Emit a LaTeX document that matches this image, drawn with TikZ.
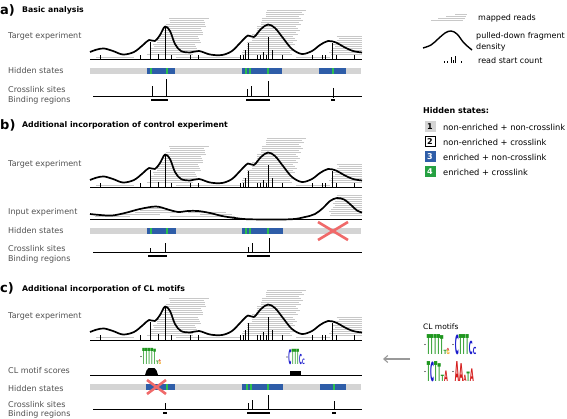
\documentclass[tikz,border=0pt]{standalone}
\usepackage{fontspec}
\setmainfont{DejaVu Sans}
\usetikzlibrary{arrows.meta}
\definecolor{readgrey}{HTML}{C8C8C8}
\definecolor{stategrey}{HTML}{D4D4D4}
\definecolor{stateblue}{HTML}{2E5DA8}
\definecolor{stategreen}{HTML}{2DBE4E}
\definecolor{xred}{HTML}{F06A6A}
\definecolor{labgrey}{HTML}{505050}
\definecolor{tgreen}{HTML}{1E961E}
\definecolor{cblue}{HTML}{1A1ACC}
\definecolor{ared}{HTML}{D41A1A}
\definecolor{gorange}{HTML}{F0A010}
\definecolor{arrgrey}{HTML}{999999}
\tikzset{
 read/.style={readgrey, line width=1pt},
 curve/.style={black, line width=1.7pt, line join=round},
 base/.style={black, line width=1pt},
 rsc/.style={black, line width=0.9pt},
 tracklabel/.style={anchor=base west, inner sep=0, font=\fontsize{8}{9}\selectfont, text=labgrey},
 title/.style={anchor=base west, inner sep=0, font=\bfseries\fontsize{7.8}{9}\selectfont},
 panel/.style={anchor=base west, inner sep=0, font=\bfseries\fontsize{13}{13}\selectfont},
 legtext/.style={anchor=base west, inner sep=0, font=\fontsize{8}{9}\selectfont},
 itemtext/.style={anchor=west, inner sep=0, font=\fontsize{8.3}{10}\selectfont},
 bind/.style={black, line width=2.2pt},
 xmark/.style={xred, line width=2.6pt},
 statebox/.style={minimum width=11pt, minimum height=11pt, inner sep=0, font=\bfseries\fontsize{8}{8}\selectfont},
}
\newcommand\TargetTrack{%
 \foreach \i in {0,...,18}{%
  \pgfmathsetmacro\rl{171-1.3*\i+mod(\i*7,5)-2}%
  \pgfmathsetmacro\rr{209-0.7*\i-mod(\i*3,4)*1.5}%
  \draw[read] (\rl,19+2*\i) -- (\rr,19+2*\i);}%
 \foreach \i in {0,...,22}{%
  \pgfmathsetmacro\rl{268-1.2*\i+mod(\i*5,4)-1.5}%
  \pgfmathsetmacro\rr{306-0.6*\i-mod(\i*3,5)*1.2}%
  \draw[read] (\rl,11+2*\i) -- (\rr,11+2*\i);}%
 \foreach \i in {0,...,9}{%
  \pgfmathsetmacro\rl{338-0.9*\i+mod(\i*3,4)-1.5}%
  \draw[read] (\rl,37+2*\i) -- (362,37+2*\i);}%
 \foreach \a/\b in {96/134,176/232,214/240,296/330}{\draw[read] (\a,57.5) -- (\b,57.5);}%
 \draw[curve] plot[smooth,tension=0.55] coordinates {(90,52) (97,49.5) (104,48.5) (113,51) (123,54.5) (134,52) (143,45) (149,40) (155,41) (160,35) (165,26.5) (170,31) (175,44) (181,51) (190,52.5) (199,51) (210,54.5) (222,55) (232,51) (241,42) (248,35.5) (254,37) (261,29) (268,24.5) (275,28) (283,38) (292,49) (302,54) (312,51) (320,45) (328,41) (336,42.5) (344,47) (353,51) (362,52.5)};%
 \foreach \x/\t in {100/55,140/55,150/42,158/54,165/27,171/55,190/55,198/55,240/55,243/55,245/50,248/43,257/55,260/55,263/52,266/55,268/37,272/50,282/55,312/55,322/55,325/55,332/43,336/55,354/55}{\draw[rsc] (\x,60) -- (\x,\t);}%
 \draw[base] (90,60) -- (362,60);%
}
\newcommand\StateBar[1]{%
 \fill[stategrey] (90,#1-3) rectangle (361,#1+3);%
}
\newcommand\BlueSeg[3]{\fill[stateblue] (#1,#3-3) rectangle (#2,#3+3);}
\newcommand\GreenStripe[2]{\fill[stategreen] (#1-0.8,#2-3) rectangle (#1+0.8,#2+3);}
\newcommand\Lt[6]{%
 \pgfmathsetmacro\ltw{#3}\pgfmathsetmacro\lth{#4}%
 \node[inner sep=0,anchor=south west] at (#1,#2) {\resizebox*{\ltw pt}{\lth pt}{\color{#5}\bfseries #6}};}
\newcommand\LogoA[3]{%
 \fill (#1,#2-10*#3) circle (0.6);
 \Lt{#1+1.5*#3}{#2}{3.1*#3}{19*#3}{tgreen}{T}
 \Lt{#1+4.7*#3}{#2}{3.1*#3}{19*#3}{tgreen}{T}
 \Lt{#1+7.9*#3}{#2}{3.1*#3}{19*#3}{tgreen}{T}
 \Lt{#1+11.1*#3}{#2}{3.1*#3}{19*#3}{tgreen}{T}
 \Lt{#1+14.3*#3}{#2}{3.1*#3}{18*#3}{tgreen}{T}
 \Lt{#1+17.5*#3}{#2}{3*#3}{4*#3}{tgreen}{T}
 \Lt{#1+20.5*#3}{#2}{3*#3}{4*#3}{gorange}{G}
 \Lt{#1+20.5*#3}{#2-4*#3}{2.5*#3}{2*#3}{ared}{A}
}
\newcommand\LogoB[3]{%
 \fill (#1,#2-10*#3) circle (0.6);
 \Lt{#1+1.5*#3}{#2}{3.8*#3}{19*#3}{cblue}{C}
 \Lt{#1+5.4*#3}{#2}{3.1*#3}{19*#3}{tgreen}{T}
 \Lt{#1+8.6*#3}{#2}{3.1*#3}{19*#3}{tgreen}{T}
 \Lt{#1+11.8*#3}{#2}{3.1*#3}{19*#3}{tgreen}{T}
 \Lt{#1+15*#3}{#2}{3.6*#3}{13*#3}{cblue}{C}
 \Lt{#1+18.7*#3}{#2}{3.4*#3}{7*#3}{cblue}{C}
}
\newcommand\LogoC[3]{%
 \fill (#1,#2-10*#3) circle (0.6);
 \Lt{#1+1.5*#3}{#2}{3.1*#3}{19*#3}{tgreen}{T}
 \Lt{#1+4.7*#3}{#2}{3.8*#3}{19*#3}{cblue}{C}
 \Lt{#1+8.6*#3}{#2}{3.1*#3}{19*#3}{tgreen}{T}
 \Lt{#1+11.8*#3}{#2}{3.1*#3}{17*#3}{tgreen}{T}
 \Lt{#1+15*#3}{#2}{3*#3}{6*#3}{tgreen}{T}
 \Lt{#1+18.1*#3}{#2}{3.6*#3}{10*#3}{ared}{A}
}
\newcommand\LogoD[3]{%
 \fill (#1,#2-10*#3) circle (0.6);
 \Lt{#1+1.5*#3}{#2}{4*#3}{19*#3}{ared}{A}
 \Lt{#1+5.6*#3}{#2}{4*#3}{17*#3}{ared}{A}
 \Lt{#1+9.7*#3}{#2}{3*#3}{6*#3}{ared}{A}
 \Lt{#1+12.8*#3}{#2}{3*#3}{9*#3}{tgreen}{T}
 \Lt{#1+15.9*#3}{#2}{3.8*#3}{12*#3}{ared}{A}
}
\begin{document}
\begin{tikzpicture}[x=1pt,y=-1pt]
\useasboundingbox (0,0) rectangle (567,419);

% ---------------- panel a
\node[panel] (pa) at (0,15) {a)};
\node[title] (ta) at (22,12.5) {Basic analysis};
\node[tracklabel] (la1) at (8,39) {Target experiment};
\node[tracklabel] (la2) at (8,74) {Hidden states};
\node[tracklabel] (la3) at (8,93) {Crosslink sites};
\node[tracklabel] (la4) at (8,102.5) {Binding regions};
\TargetTrack
\StateBar{71}
\BlueSeg{147}{175}{71}\BlueSeg{242}{282}{71}\BlueSeg{319}{346}{71}
\GreenStripe{151}{71}\GreenStripe{167}{71}\GreenStripe{246}{71}\GreenStripe{250}{71}\GreenStripe{268}{71}\GreenStripe{333}{71}
\draw[base, line width=0.8pt] (93,96) -- (362,96);
\foreach \x/\t in {152/86,166/79,247/89,251/86,268/81}{\draw[rsc] (\x,96) -- (\x,\t);}
\draw[rsc] (333,88) -- (333,98);
\draw[bind] (151,100) -- (168,100);
\draw[bind] (246,100) -- (270,100);
\draw[bind] (331,100) -- (335,100);

% ---------------- legend
\foreach \a/\b/\y in {455/467/15,446/466/17,438/465/19,431/463/21}{\draw[read] (\a,\y) -- (\b,\y);}
\node[legtext] (lg1) at (478,21) {mapped reads};
\draw[curve, line width=1.4pt] plot[smooth,tension=0.6] coordinates {(423,48) (431,45) (438,39) (445,33) (451,31) (457,34) (464,43) (472,50)};
\node[legtext] (lg2) at (476,39) {pulled-down fragment};
\node[legtext] (lg3) at (476,50) {density};
\foreach \x/\t in {444/61,447/61,451/57,453/60,455/56,461/61}{\draw[rsc] (\x,63) -- (\x,\t);}
\node[legtext] (lg4) at (478,64) {read start count};
\node[legtext, font=\bfseries\fontsize{8}{9}\selectfont] (hs) at (423,114) {Hidden states:};
\node[statebox, fill=stategrey] (s1) at (430,127) {1};
\node[statebox, draw=black, line width=1pt, fill=white, minimum width=10pt, minimum height=10pt] (s2) at (430,142) {2};
\node[statebox, fill=stateblue, text=white] (s3) at (430,157) {3};
\node[statebox, fill=stategreen!85!black, text=white] (s4) at (430,172) {4};
\node[itemtext] (t1) at (443,127) {non-enriched + non-crosslink};
\node[itemtext] (t2) at (443,142) {non-enriched + crosslink};
\node[itemtext] (t3) at (443,157) {enriched + non-crosslink};
\node[itemtext] (t4) at (443,172) {enriched + crosslink};

% ---------------- panel b
\node[panel] (pb) at (0,130) {b)};
\node[title] (tb) at (22,127.5) {Additional incorporation of control experiment};
\node[tracklabel] (lb1) at (8,167) {Target experiment};
\node[tracklabel] (lb2) at (8,214.5) {Input experiment};
\node[tracklabel] (lb3) at (8,234) {Hidden states};
\node[tracklabel] (lb4) at (8,252) {Crosslink sites};
\node[tracklabel] (lb5) at (8,261.5) {Binding regions};
\begin{scope}[shift={(0,128)}]
\TargetTrack
\end{scope}
% input experiment
\foreach \a/\b/\y in {95/130/217,170/235/217,120/160/215,200/232/215,135/175/213,188/226/213,140/170/211,145/168/209}{\draw[read] (\a,\y) -- (\b,\y);}
\foreach \i in {0,...,10}{%
  \pgfmathsetmacro\rl{338-0.9*\i+mod(\i*3,4)-1.5}%
  \draw[read] (\rl,196+2*\i) -- (362,196+2*\i);}
\draw[base] (90,220) -- (362,220);
\draw[curve] plot[smooth,tension=0.55] coordinates {(90,214) (100,215) (112,215.5) (125,213) (140,209) (156,206.5) (168,209.5) (178,212) (188,211) (198,211) (210,213) (222,216) (235,218) (250,219.3) (290,219.3) (305,217) (315,214) (323,208) (330,201) (337,198) (344,199.5) (351,205) (357,210.5) (362,212.5)};
\StateBar{231}
\BlueSeg{147}{176}{231}\BlueSeg{242}{283}{231}
\GreenStripe{151}{231}\GreenStripe{167}{231}\GreenStripe{246}{231}\GreenStripe{250}{231}\GreenStripe{268}{231}
\draw[xmark] (318,222) -- (348,240);
\draw[xmark] (318,240) -- (348,222);
\draw[base, line width=0.8pt] (93,252) -- (362,252);
\foreach \x/\t in {150/248,165/243,248/247,252/243,269/238}{\draw[rsc] (\x,252) -- (\x,\t);}
\draw[bind] (148,256) -- (167,256);
\draw[bind] (247,256) -- (270,256);

% ---------------- panel c
\node[panel] (pc) at (0,293) {c)};
\node[title] (tc) at (22,292) {Additional incorporation of CL motifs};
\node[tracklabel] (lc1) at (8,319) {Target experiment};
\node[tracklabel] (lc2) at (8,373) {CL motif scores};
\node[tracklabel] (lc3) at (8,391) {Hidden states};
\node[tracklabel] (lc4) at (8,407.5) {Crosslink sites};
\node[tracklabel] (lc5) at (8,416.5) {Binding regions};
\begin{scope}[shift={(0,280)}]
\TargetTrack
\end{scope}
\LogoA{141}{365}{0.85}
\LogoB{287}{365}{0.8}
\fill (145,375) -- (146.5,370.5) -- (148.5,368) -- (154.5,368) -- (156.5,370.5) -- (158,375) -- cycle;
\fill (290,370.5) rectangle (301,375);
\draw[base] (90,375) -- (362,375);
\StateBar{387}
\BlueSeg{146}{175}{387}\BlueSeg{242}{283}{387}\BlueSeg{320}{346}{387}
\GreenStripe{167}{387}\GreenStripe{247}{387}\GreenStripe{251}{387}\GreenStripe{268}{387}\GreenStripe{334}{387}
\draw[xmark] (147,380) -- (166,394);
\draw[xmark] (147,394) -- (166,380);
\draw[base, line width=0.8pt] (93,409) -- (362,409);
\foreach \x/\t in {248/403,252/400,268/395}{\draw[rsc] (\x,409) -- (\x,\t);}
\draw[rsc] (165,403) -- (165,409);
\draw[rsc] (334,401) -- (334,409);
\draw[bind] (163,413) -- (167,413);
\draw[bind] (247,413) -- (270,413);
\draw[bind] (332,413) -- (336,413);

% CL motifs legend and arrow
\node[legtext, font=\fontsize{7.5}{9}\selectfont] (clm) at (423,329.5) {CL motifs};
\LogoA{425}{355}{1.05}
\LogoB{453}{355}{1.05}
\LogoC{425}{382}{1.05}
\LogoD{453}{382}{1.05}
\coordinate (arrS) at (410,359);
\coordinate (arrE) at (383,359);
\draw[arrgrey, line width=1.1pt, -{Straight Barb[length=4pt,width=7pt]}] (arrS) -- (arrE);
\end{tikzpicture}
\end{document}
